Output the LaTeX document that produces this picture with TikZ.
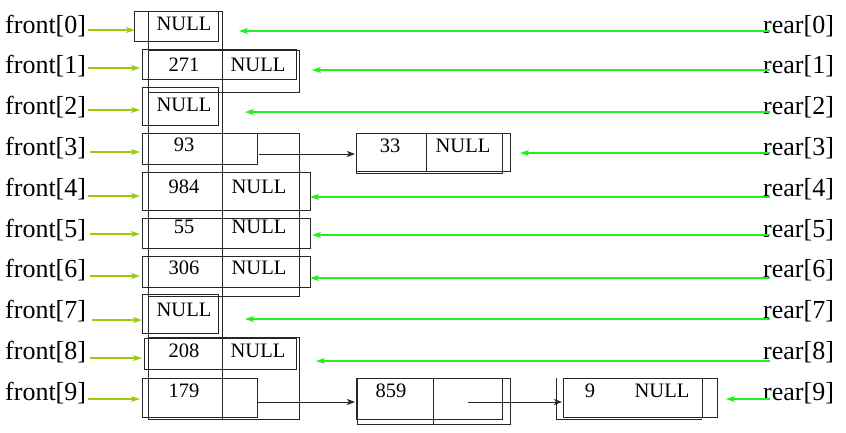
\documentclass[tikz,border=0pt]{standalone}
\usepackage{fontspec}
\setmainfont{Liberation Serif}
\usetikzlibrary{arrows.meta}
\definecolor{fgreen}{HTML}{99CC11}
\definecolor{rgreen}{HTML}{22EE22}
\begin{document}
\begin{tikzpicture}[x=1pt,y=-1pt,
  lbl/.style={font=\fontsize{26}{30}\selectfont, inner sep=0pt, anchor=base west},
  val/.style={font=\fontsize{20.5}{24}\selectfont, inner sep=0pt, anchor=base},
  cell/.style={draw=black!85, line width=1pt},
  farr/.style={draw=fgreen, line width=1.1pt, -{Stealth[length=9pt,width=6pt,inset=2.5pt]}},
  rarr/.style={draw=rgreen, line width=1.1pt, -{Stealth[length=9pt,width=6pt,inset=2.5pt]}},
  link/.style={draw=black!85, line width=1pt, -{Stealth[length=8pt,width=6pt,inset=2pt]}}]
\useasboundingbox (0,0) rectangle (846,432);

% labels
\foreach \i in {0,...,9}{
  \node[lbl] (f\i) at (5,{33+40.8*\i}) {front[\i]};
  \node[lbl] (r\i) at (763,{33+40.8*\i}) {rear[\i]};
}

% boxes
\draw[cell] (148,11) rectangle (222,419);
\draw[cell] (134,11) rectangle (218,41);
\draw[cell] (142,49) rectangle (296,79);
\draw[cell] (148,50) rectangle (299,92);
\draw[cell] (142,87) rectangle (218,125);
\draw[cell] (142,133) rectangle (257,164);
\draw[cell] (148,133) rectangle (299,296);
\draw[cell] (142,172) rectangle (310,210);
\draw[cell] (142,218) rectangle (310,248);
\draw[cell] (142,256) rectangle (310,287);
\draw[cell] (142,294) rectangle (218,333);
\draw[cell] (144,338) rectangle (296,369);
\draw[cell] (148,337) rectangle (299,419);
\draw[cell] (142,378) rectangle (257,417);
% 33
\draw[cell] (356,133) rectangle (502,173);
\draw[cell] (356,133) rectangle (510,171);
\draw[cell] (426,133) -- (426,171);
% 859
\draw[cell] (356,378) rectangle (502,419);
\draw[cell] (357,378) rectangle (510,424);
\draw[cell] (433,378) -- (433,424);
% 9
\draw[cell] (563,378) rectangle (717,417);
\draw[cell] (702,378) -- (702,417);
\draw[cell] (556,378) -- (556,419) -- (702,419);

% values
\node[val] (v0) at (184,30) {NULL};
\node[val] (v1a) at (184,71) {271};
\node[val] (v1b) at (258,71) {NULL};
\node[val] (v2) at (184,111) {NULL};
\node[val] (v3) at (184,151) {93};
\node[val] (v4a) at (184,193) {984};
\node[val] (v4b) at (259,193) {NULL};
\node[val] (v5a) at (184,233) {55};
\node[val] (v5b) at (259,233) {NULL};
\node[val] (v6a) at (184,274) {306};
\node[val] (v6b) at (259,274) {NULL};
\node[val] (v7) at (184,316) {NULL};
\node[val] (v8a) at (184,357) {208};
\node[val] (v8b) at (258,357) {NULL};
\node[val] (v9) at (184,397) {179};
\node[val] (w33) at (390,152) {33};
\node[val] (w33n) at (463,152) {NULL};
\node[val] (w859) at (391,397) {859};
\node[val] (w9) at (590,397) {9};
\node[val] (w9n) at (662,397) {NULL};

% front arrows
\foreach \i/\y/\s/\t in {0/30/88/135,1/68/88/140,2/110/88/140,3/152/90/140,4/196/88/140,5/234/90/140,6/276/90/140,7/320/92/142,8/358/90/142,9/399/88/140}{
  \coordinate (fs\i) at (\s,\y);
  \coordinate (ft\i) at (\t,\y);
  \draw[farr] (fs\i) -- (ft\i);
}
% rear arrows
\foreach \i/\y/\t in {0/31/239,1/70/312,2/112/245,3/153/520,4/197/310,5/235/312,6/278/310,7/319/245,8/361/316,9/399/726}{
  \coordinate (rs\i) at (770,\y);
  \coordinate (rt\i) at (\t,\y);
  \draw[rarr] (rs\i) -- (rt\i);
}

% links
\coordinate (l3s) at (259,154);
\coordinate (l3t) at (355,154);
\coordinate (l9s) at (257,402);
\coordinate (l9t) at (355,402);
\coordinate (l859s) at (468,402);
\coordinate (l859t) at (562,402);
\draw[link] (l3s) -- (l3t);
\draw[link] (l9s) -- (l9t);
\draw[link] (l859s) -- (l859t);
\end{tikzpicture}
\end{document}
